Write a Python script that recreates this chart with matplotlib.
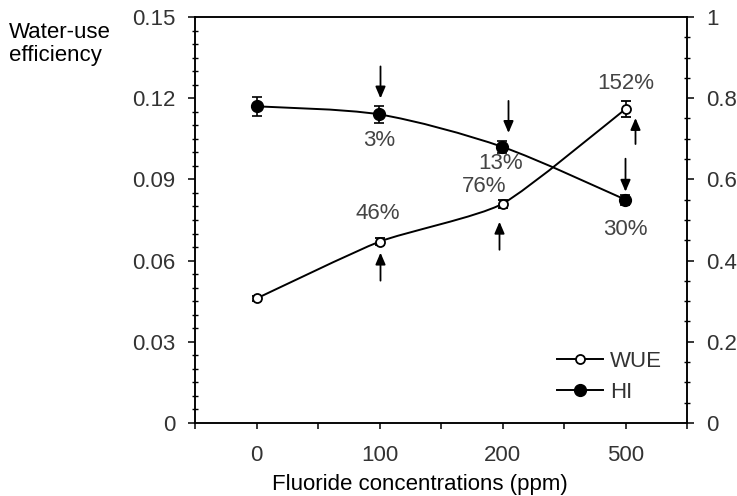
import matplotlib
matplotlib.use("Agg")
import matplotlib.pyplot as plt
import matplotlib.transforms as mt
import numpy as np
from matplotlib.path import Path
from matplotlib.patches import PathPatch
from matplotlib.lines import Line2D
from matplotlib.ticker import MultipleLocator, FixedLocator

plt.rcParams['font.family'] = ['Liberation Sans', 'DejaVu Sans']

# ---- data ----
categories = ["0", "100", "200", "500"]
wue = [0.046, 0.067, 0.081, 0.116]
wue_err = [0.001, 0.0012, 0.0015, 0.003]
hi = [0.78, 0.76, 0.68, 0.55]
hi_err = [0.024, 0.022, 0.015, 0.012]
wue_pct = ["", "46%", "76%", "152%"]
hi_pct = ["", "3%", "13%", "30%"]
left_ticks = [0, 0.03, 0.06, 0.09, 0.12, 0.15]
left_labels = ["0", "0.03", "0.06", "0.09", "0.12", "0.15"]
right_ticks = [0, 0.2, 0.4, 0.6, 0.8, 1.0]
right_labels = ["0", "0.2", "0.4", "0.6", "0.8", "1"]

x = np.arange(1, len(categories) + 1)

fig = plt.figure(figsize=(7.37, 4.96), dpi=100)
ax = fig.add_axes([195/737, 1-423/496, (687-195)/737, (423-17)/496])
ax2 = ax.twinx()

FS = 16
TC = '#333333'
AC = '#444444'


def smooth_path(xs, ys, k=10.0):
    pts = np.column_stack([xs, ys]).astype(float)
    n = len(pts)
    verts = [pts[0]]
    codes = [Path.MOVETO]
    for i in range(n - 1):
        p0 = pts[i - 1] if i > 0 else pts[i]
        p1 = pts[i]
        p2 = pts[i + 1]
        p3 = pts[i + 2] if i + 2 < n else pts[i + 1]
        c1 = p1 + (p2 - p0) / k
        c2 = p2 - (p3 - p1) / k
        verts += [c1, c2, p2]
        codes += [Path.CURVE4] * 3
    return Path(verts, codes)


ax.add_patch(PathPatch(smooth_path(x, wue, 10.0), facecolor='none', edgecolor='black', lw=1.4, zorder=2))
ax2.add_patch(PathPatch(smooth_path(x, hi, 7.0), facecolor='none', edgecolor='black', lw=1.4, zorder=2))

ax.errorbar(x, wue, yerr=wue_err, fmt='o', ms=6.5, mfc='white', mec='black', mew=1.3,
            ecolor='black', elinewidth=1.2, capsize=3.5, capthick=1.2, zorder=3)
ax2.errorbar(x, hi, yerr=hi_err, fmt='o', ms=8.5, mfc='black', mec='black',
             ecolor='black', elinewidth=1.2, capsize=3.5, capthick=1.2, zorder=3)

ax.set_xlim(0.5, len(categories) + 0.5)
ax.set_ylim(0, 0.15)
ax2.set_ylim(0, 1)

ax.set_xticks(x)
ax.set_xticklabels(categories)
ax.xaxis.set_minor_locator(FixedLocator(np.arange(0.5, len(categories) + 0.6, 1.0)))
ax.set_yticks(left_ticks)
ax.set_yticklabels(left_labels)
ax.yaxis.set_minor_locator(MultipleLocator(0.005))
ax2.set_yticks(right_ticks)
ax2.set_yticklabels(right_labels)
ax2.yaxis.set_minor_locator(MultipleLocator(0.05))

for a in (ax, ax2):
    for s in a.spines.values():
        s.set_linewidth(1.1)
ax.tick_params(axis='x', which='both', direction='out', length=4, width=1.1,
               labelsize=FS, labelcolor=TC, pad=12)
ax.tick_params(axis='y', which='major', direction='out', length=5, width=1.1,
               labelsize=FS, labelcolor=TC, pad=9)
ax.tick_params(axis='y', which='minor', direction='inout', length=4, width=1.0)
ax2.tick_params(axis='y', which='major', direction='out', length=5, width=1.1,
                labelsize=FS, labelcolor=TC, pad=9)
ax2.tick_params(axis='y', which='minor', direction='inout', length=4, width=1.0)

ax.set_xlabel("Fluoride concentrations (ppm)", fontsize=FS, labelpad=6, color='black')
ax.xaxis.set_label_coords((420 - 195) / 492, -0.125)
fig.text(9/737, 1-22/496, "Water-use\nefficiency", fontsize=FS, va='top', ha='left',
         linespacing=1.1)

arrow_kw = dict(arrowstyle='-|>,head_length=0.7,head_width=0.3', color='black', lw=1.3,
                shrinkA=0, shrinkB=0)


def ann_text(a, xi, yi, txt, dx, dy):
    a.annotate(txt, xy=(xi, yi), xytext=(dx, dy), textcoords='offset pixels',
               ha='center', va='center', fontsize=FS, color=AC)


def ann_arrow(a, xi, yi, dx, tail_dy, tip_dy):
    # tip / tail given in pixel offsets from the data point
    tr = a.transData + mt.ScaledTranslation(dx / 100, tip_dy / 100, fig.dpi_scale_trans)
    tr_tail = a.transData + mt.ScaledTranslation(dx / 100, tail_dy / 100, fig.dpi_scale_trans)
    tip_disp = tr.transform((xi, yi))
    tail_disp = tr_tail.transform((xi, yi))
    a.annotate('', xy=tip_disp, xycoords='figure pixels', xytext=tail_disp,
               textcoords='figure pixels', arrowprops=arrow_kw)


# HI annotations (decrease, arrows pointing down above the points)
hi_text_off = [None, (0, -26), (-2, -17), (0, -30)]
hi_arrow_off = [None, (1, 48, 16), (6, 46, 14), (0, 41, 8)]
for i in range(1, len(categories)):
    ann_text(ax2, x[i], hi[i], hi_pct[i], *hi_text_off[i])
    ann_arrow(ax2, x[i], hi[i], *hi_arrow_off[i])

# WUE annotations (increase, arrows pointing up below the points)
wue_text_off = [None, (-2, 28), (-18, 17), (0, 26)]
wue_arrow_off = [None, (1, -39, -11), (-3, -46, -18), (10, -35, -9)]
for i in range(1, len(categories)):
    ann_text(ax, x[i], wue[i], wue_pct[i], *wue_text_off[i])
    ann_arrow(ax, x[i], wue[i], *wue_arrow_off[i])

handles = [
    Line2D([], [], color='black', lw=1.4, marker='o', ms=6.5, mfc='white', mec='black', mew=1.3),
    Line2D([], [], color='black', lw=1.4, marker='o', ms=8.5, mfc='black', mec='black'),
]
leg = ax.legend(handles, ["WUE", "HI"], loc='lower right',
                bbox_to_anchor=((662 - 195) / 492, (423 - 403) / 406),
                frameon=False, fontsize=FS, handlelength=2.1, handletextpad=0.3,
                labelspacing=0.45, borderaxespad=0, borderpad=0)
for t in leg.get_texts():
    t.set_color(TC)

fig.savefig("out.png", dpi=100)
